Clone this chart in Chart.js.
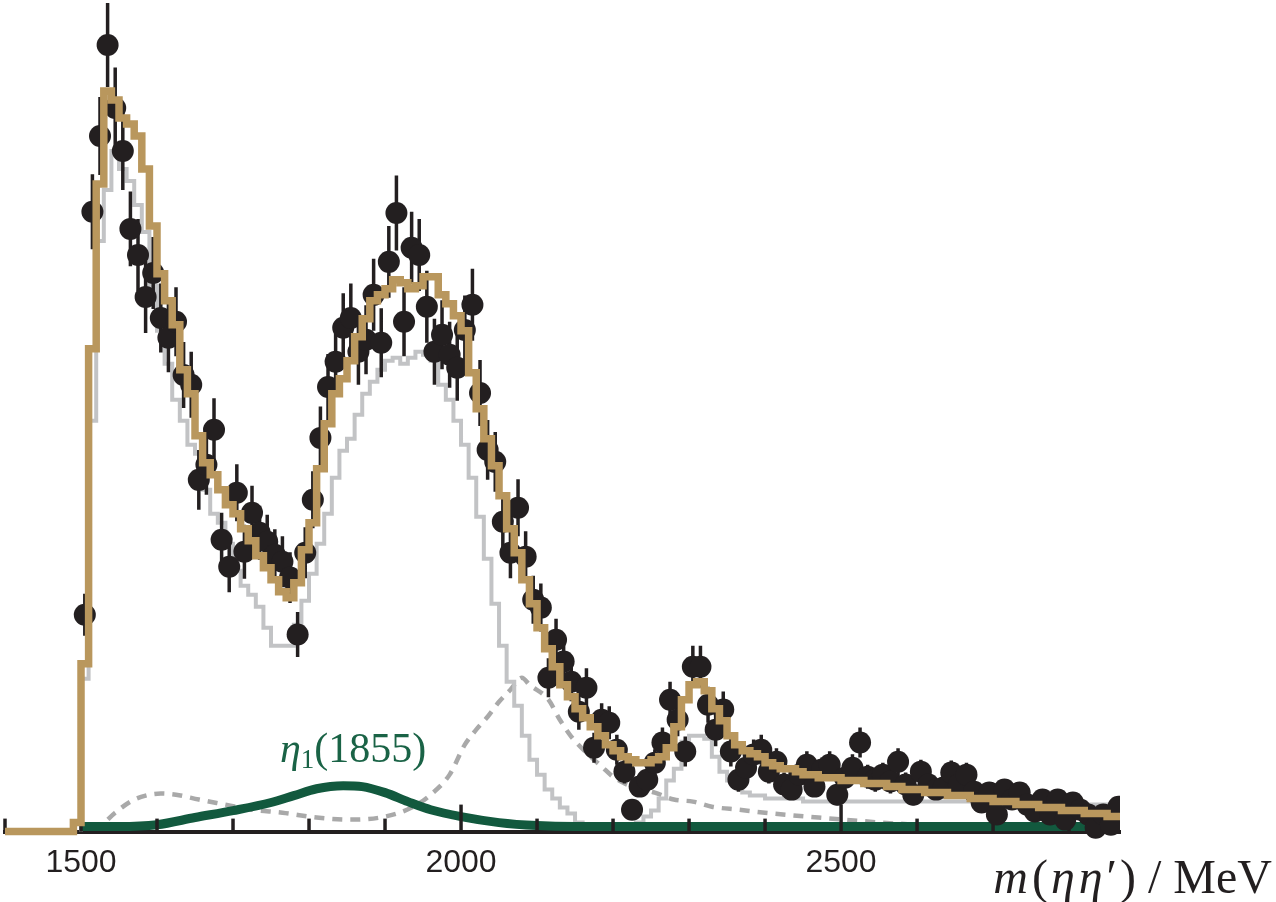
<!DOCTYPE html>
<html>
<head>
<meta charset="utf-8">
<script src="https://cdn.jsdelivr.net/npm/chart.js@4.4.1/dist/chart.umd.min.js"></script>
<style>
	html, body { margin: 0; padding: 0; background: #fff; }
</style>
</head>
<body>
<canvas id="chartCanvas" width="1276" height="902"></canvas>
<script>
// m(eta eta') spectrum, 10 MeV bins, first data bin starts at 1500 MeV
var binLow = 1500;
var binWidth = 10;

// data points (events / bin), one per bin from 1500 to 2870
var counts = [
	72.3, 206.7, 232, 262.3, 241.3, 227, 201, 192.3, 178.3, 186.3,
	171.3, 164.7, 170, 152.3, 149, 117.3, 122.3, 134, 97.3, 88.3,
	113, 93.3, 106.3, 99.7, 96.7, 92.3, 90, 84.7, 65.7, 93,
	110.7, 131.3, 148.3, 156.7, 168, 171.3, 160, 164, 179, 163,
	190, 206.3, 170, 194.7, 192.3, 175, 160, 165.7, 159, 154.7,
	167.3, 175.7, 146.3, 127.3, 123.3, 103.3, 93, 108, 91.7, 77.3,
	74.7, 51.3, 64, 56.7, 50, 40, 48, 28, 37.3, 36.3,
	27.3, 20, 7.3, 15, 17.3, 23, 29.7, 44, 37.3, 26.7,
	55, 55, 42.3, 34, 40.7, 26.7, 17.3, 21.3, 25.7, 27.3,
	20, 23.3, 15.7, 14, 19, 22.3, 15, 20.7, 22.3, 12.3,
	18, 21.3, 29.7, 18.3, 17.3, 19, 16.7, 23.3, 15.7, 12.3,
	20, 15.7, 14, 14.7, 19.7, 15.7, 19, 13.3, 9.7, 13,
	5.7, 14, 10.7, 13, 9, 6.7, 10.7, 5.7, 10.7, 4,
	9.7, 7.3, 5.7, 1.3, 5.7, 2.3, 8.3
];
var errors = [
	7, 12.5, 13, 14, 13.5, 13, 12.5, 12, 12, 12,
	11.5, 11.5, 11.5, 11, 11, 10, 10, 10.5, 9, 8.5,
	9.5, 9, 9, 9, 9, 8.5, 8.5, 8.5, 7.5, 8.5,
	9.5, 10.5, 11, 11, 11.5, 11.5, 11, 11.5, 12, 11.5,
	12, 12.5, 11.5, 12, 12, 12, 11, 11.5, 11, 11,
	11.5, 12, 11, 10, 10, 9, 8.5, 9.5, 8.5, 8,
	8, 6.5, 7, 7, 6.5, 6, 6.5, 5, 5.5, 5.5,
	5, 4, 2.5, 3.5, 4, 4.5, 5, 6, 5.5, 5,
	7, 7, 6, 5.5, 6, 5, 4, 4.5, 5, 5,
	4, 4.5, 4, 3.5, 4, 4.5, 3.5, 4, 4.5, 3.5,
	4, 4.5, 5, 4, 4, 4, 4, 4.5, 4, 3.5,
	4, 4, 3.5, 3.5, 4, 4, 4, 3.5, 3, 3.5,
	2, 3.5, 3, 3.5, 3, 2.5, 3, 2, 3, 2,
	3, 2.5, 2, 1, 2, 1.5, 3
];

// total fit, bins from 1490
var fitStart = 1490;
var fitTotal = [
	3,
	56, 161, 216, 247, 244, 238, 236, 232, 221, 202,
	186, 177, 169, 154, 146, 132, 123, 119, 114, 109,
	106, 101, 97, 92, 88, 84, 80, 78, 83, 94,
	103, 121, 136, 146, 151, 157, 165, 171, 177, 179,
	181, 184, 183, 181, 182, 185, 185, 179, 176, 172,
	167, 153, 141, 131, 122, 112, 101, 93, 84, 76,
	68, 61, 55, 49, 45, 41, 38, 35, 32, 29,
	27, 25, 24, 23, 23, 24, 25, 28, 35, 44,
	49, 50, 47, 41, 37, 32, 29, 27, 26, 25,
	23, 22, 21, 21, 20, 19, 19, 18, 18, 18,
	17, 17, 17, 16, 16, 16, 15, 15, 14, 14,
	14, 13, 13, 13, 12, 12, 12, 11, 11, 11,
	10, 10, 10, 9, 9, 9, 8, 8, 8, 7,
	7, 7, 6, 6, 6, 5, 5
];

// grey solid component, bins from 1500
var mainStart = 1500;
var fitMain = [
	51, 137, 197, 214, 227, 221, 217, 209, 200, 182,
	167, 156, 144, 137, 129, 126, 114, 106, 103, 96,
	87, 82, 79, 75, 68, 62, 62, 62, 69, 77,
	86, 96, 106, 118, 127, 131, 139, 146, 150, 154,
	157, 158, 156, 158, 160, 159, 157, 149, 144, 137,
	129, 118, 105, 91, 76, 62, 50, 42, 32, 24,
	19, 14, 11, 8, 6, 3, 2, 1, 1, 1,
	1, 1, 2, 3, 5, 7, 11, 17, 21, 30,
	32, 32, 31, 25, 20, 17, 15, 13, 12, 12,
	11, 11, 11, 11, 11, 10, 10, 10, 10, 10,
	10, 10, 10, 10, 10, 10, 10, 10, 10, 10,
	10, 10, 10, 10, 10, 10, 10, 10, 10, 10,
	9, 9, 9, 9, 9, 9, 9, 9, 9, 9,
	9, 9, 9, 9, 9, 9, 9
];

// grey dashed component
var bkgMass = [1515, 1525, 1545, 1565, 1585, 1605, 1625, 1655, 1690, 1725, 1765, 1810, 1855, 1900, 1935, 1960, 1985, 2005, 2020, 2035, 2050, 2065, 2080, 2090, 2115, 2130, 2145, 2165, 2185, 2200, 2225, 2255, 2280, 2305, 2330, 2365, 2400, 2470, 2600, 2735, 2870];
var bkgCurve = [1.3, 2, 6.3, 10, 12, 12.7, 12.3, 10.7, 9, 7.3, 6.3, 4.7, 4, 5, 8, 12.3, 19, 29, 34, 38.3, 43.3, 47.3, 51.3, 49, 44, 37.3, 31.7, 26.3, 21.7, 18.3, 15, 13, 10.7, 10, 8.3, 7.3, 6.3, 4.7, 2.3, 1.7, 1.3];

// eta1(1855) component
var etaMass = [1500, 1550, 1600, 1650, 1700, 1750, 1780, 1810, 1845, 1870, 1900, 1930, 1960, 2000, 2050, 2100, 2150, 2870];
var etaCurve = [1.7, 1.7, 2.3, 4.7, 7, 9.7, 12, 14.3, 15.3, 15, 13, 10, 7.3, 5, 3, 2, 1.7, 1.7];

var labelledTicks = [1500, 2000, 2500];

var ink = '#231f20';
var tan = '#b9975d';
var green = '#12593e';

var IDX_TOTAL = 0, IDX_POINTS = 1, IDX_ETA = 2, IDX_MAIN = 3, IDX_BKG = 4;

var points = counts.map(function(c, i) {
	return {x: binLow + binWidth * (i + 0.5), y: c};
});

var totalLine = [{x: 1400, y: 0}];
fitTotal.forEach(function(v, i) {
	totalLine.push({x: fitStart + binWidth * i, y: v});
});
totalLine.push({x: fitStart + binWidth * fitTotal.length, y: fitTotal[fitTotal.length - 1]});

var mainLine = [{x: mainStart, y: 0}];
fitMain.forEach(function(v, i) {
	mainLine.push({x: mainStart + binWidth * i, y: v});
});
mainLine.push({x: mainStart + binWidth * fitMain.length, y: fitMain[fitMain.length - 1]});

var bkgLine = bkgMass.map(function(m, i) { return {x: m, y: bkgCurve[i]}; });
var etaLine = etaMass.map(function(m, i) { return {x: m, y: etaCurve[i]}; });

var clipBox = {left: 8, top: 20, right: 0, bottom: 20};

// error bars go under the points
var errorBars = {
	id: 'errorBars',
	beforeDatasetDraw: function(chart, args) {
		if (args.index !== IDX_POINTS) return;
		var xs = chart.scales.x, ys = chart.scales.y, ctx = chart.ctx, a = chart.chartArea;
		ctx.save();
		ctx.beginPath();
		ctx.rect(a.left, 0, a.right - a.left, chart.height);
		ctx.clip();
		ctx.strokeStyle = ink;
		ctx.lineWidth = 3.5;
		ctx.beginPath();
		counts.forEach(function(c, i) {
			var px = xs.getPixelForValue(binLow + binWidth * (i + 0.5));
			ctx.moveTo(px, ys.getPixelForValue(c + errors[i]));
			ctx.lineTo(px, ys.getPixelForValue(c - errors[i]));
		});
		ctx.stroke();
		ctx.restore();
	}
};

// tick marks point up into the plot
var innerTicks = {
	id: 'innerTicks',
	afterDatasetDraw: function(chart, args) {
		if (args.index !== IDX_ETA) return;
		var xs = chart.scales.x, ctx = chart.ctx, base = chart.chartArea.bottom;
		ctx.save();
		ctx.strokeStyle = ink;
		ctx.lineWidth = 3.5;
		xs.ticks.forEach(function(t) {
			var px = xs.getPixelForValue(t.value);
			var len = labelledTicks.indexOf(t.value) >= 0 ? 27 : 13;
			ctx.beginPath();
			ctx.moveTo(px, base);
			ctx.lineTo(px, base - len);
			ctx.stroke();
		});
		ctx.restore();
	}
};

function piecesWidth(ctx, pieces) {
	var w = 0;
	pieces.forEach(function(p) {
		ctx.font = p.font;
		w += ctx.measureText(p.text).width + (p.gap || 0);
	});
	return w;
}

function drawPieces(ctx, pieces, x, y) {
	pieces.forEach(function(p) {
		ctx.font = p.font;
		ctx.fillText(p.text, x, y + (p.dy || 0));
		x += ctx.measureText(p.text).width + (p.gap || 0);
	});
}

var labels = {
	id: 'labels',
	afterDraw: function(chart) {
		var ctx = chart.ctx;
		ctx.save();
		ctx.textBaseline = 'alphabetic';
		ctx.textAlign = 'left';

		// axis title, right aligned at the bottom
		var serif = '"Liberation Serif", "Times New Roman", serif';
		var title = [
			{text: 'm', font: 'italic 48px ' + serif, gap: 4},
			{text: '(', font: '48px ' + serif, gap: 3},
			{text: '\u03b7', font: 'italic 48px ' + serif, gap: 4},
			{text: '\u03b7', font: 'italic 48px ' + serif, gap: 4},
			{text: '\u2032', font: '48px ' + serif, gap: 3},
			{text: ')', font: '48px ' + serif},
			{text: ' / MeV', font: '48px ' + serif}
		];
		ctx.fillStyle = ink;
		drawPieces(ctx, title, 1272 - piecesWidth(ctx, title), 893);

		// eta1(1855) component label
		ctx.fillStyle = '#1a6346';
		drawPieces(ctx, [
			{text: '\u03b7', font: 'italic 42px ' + serif},
			{text: '1', font: '27px ' + serif, dy: 6},
			{text: '(1855)', font: '42px ' + serif}
		], 280, 762);
		ctx.restore();
	}
};

var ctx = document.getElementById('chartCanvas');
var chart = new Chart(ctx, {
	type: 'line',
	data: {
		datasets: [
			{
				label: 'total fit',
				data: totalLine,
				stepped: true,
				borderColor: tan,
				borderWidth: 7.5,
				borderJoinStyle: 'miter',
				pointRadius: 0,
				fill: false,
				clip: clipBox,
				order: 0
			},
			{
				label: 'data',
				data: points,
				showLine: false,
				pointRadius: 11,
				pointBackgroundColor: ink,
				pointBorderWidth: 0,
				clip: clipBox,
				order: 1
			},
			{
				label: '\u03b71(1855)',
				data: etaLine,
				borderColor: green,
				borderWidth: 9,
				cubicInterpolationMode: 'monotone',
				pointRadius: 0,
				fill: false,
				clip: clipBox,
				order: 2
			},
			{
				label: 'main component',
				data: mainLine,
				stepped: true,
				borderColor: '#c2c3c5',
				borderWidth: 4,
				borderJoinStyle: 'miter',
				pointRadius: 0,
				fill: false,
				clip: clipBox,
				order: 3
			},
			{
				label: 'background',
				data: bkgLine,
				borderColor: '#a9a9a9',
				borderWidth: 4.5,
				borderDash: [10, 8],
				cubicInterpolationMode: 'monotone',
				pointRadius: 0,
				fill: false,
				clip: clipBox,
				order: 4
			}
		]
	},
	options: {
		responsive: false,
		animation: false,
		events: [],
		devicePixelRatio: 1,
		layout: {autoPadding: false, padding: {left: 5, right: 156, top: 0, bottom: 8}},
		plugins: {
			legend: {display: false},
			tooltip: {enabled: false}
		},
		scales: {
			x: {
				type: 'linear',
				min: 1400,
				max: 2867,
				grid: {display: false, drawTicks: false},
				border: {display: true, color: ink, width: 4},
				ticks: {
					stepSize: 100,
					includeBounds: false,
					autoSkip: false,
					maxRotation: 0,
					padding: 12,
					color: ink,
					font: {family: '"Liberation Sans", Arial, sans-serif', size: 32},
					callback: function(value) {
						return labelledTicks.indexOf(value) >= 0 ? String(value) : '';
					}
				},
				afterFit: function(scale) {
					scale.paddingLeft = 0;
					scale.paddingRight = 0;
				}
			},
			y: {
				display: false,
				min: 0,
				max: 277.33
			}
		}
	},
	plugins: [errorBars, innerTicks, labels]
});
</script>
</body>
</html>
